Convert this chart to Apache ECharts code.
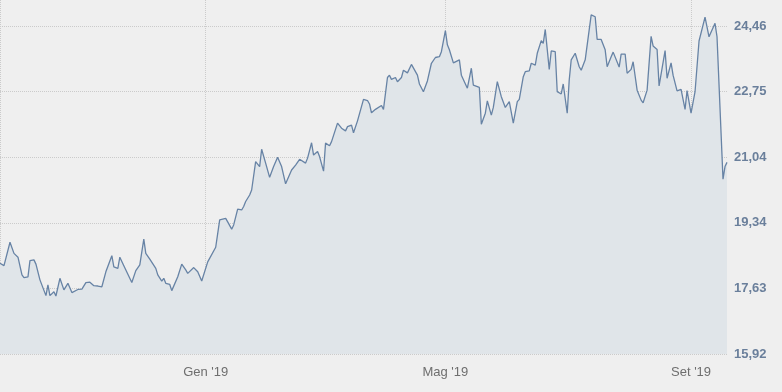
<!DOCTYPE html>
<html>
<head>
<meta charset="utf-8">
<script src="https://cdn.jsdelivr.net/npm/echarts@6/dist/echarts.min.js"></script>
<style>
html,body{margin:0;padding:0;background:#efefef;}
#c{width:782px;height:392px;}
</style>
</head>
<body>
<div id="c"></div>
<script>
const dates = [
'2018-09-20','2018-09-22','2018-09-25','2018-09-27','2018-09-28','2018-09-29','2018-10-01','2018-10-02','2018-10-04','2018-10-05',
'2018-10-07','2018-10-08','2018-10-10','2018-10-13','2018-10-14','2018-10-15','2018-10-17','2018-10-18','2018-10-20','2018-10-22',
'2018-10-23','2018-10-24','2018-10-26','2018-10-27','2018-10-29','2018-10-30','2018-10-31','2018-11-02','2018-11-04','2018-11-06',
'2018-11-08','2018-11-10','2018-11-12','2018-11-15','2018-11-16','2018-11-18','2018-11-19','2018-11-21','2018-11-22','2018-11-25',
'2018-11-27','2018-11-28','2018-11-29','2018-12-01','2018-12-02','2018-12-04','2018-12-05','2018-12-07','2018-12-08','2018-12-10',
'2018-12-11','2018-12-12','2018-12-14','2018-12-15','2018-12-18','2018-12-20','2018-12-22','2018-12-23','2018-12-24','2018-12-26',
'2018-12-27','2018-12-28','2018-12-30','2019-01-02','2019-01-03','2019-01-06','2019-01-08','2019-01-11','2019-01-12','2019-01-14',
'2019-01-15','2019-01-17','2019-01-19','2019-01-20','2019-01-21','2019-01-23','2019-01-24','2019-01-26','2019-01-28','2019-01-29',
'2019-01-31','2019-02-02','2019-02-04','2019-02-06','2019-02-07','2019-02-08','2019-02-10','2019-02-11','2019-02-13','2019-02-15',
'2019-02-16','2019-02-17','2019-02-20','2019-02-21','2019-02-23','2019-02-24','2019-02-26','2019-02-27','2019-03-01','2019-03-02',
'2019-03-04','2019-03-05','2019-03-08','2019-03-10','2019-03-12','2019-03-13','2019-03-15','2019-03-16','2019-03-18','2019-03-19',
'2019-03-21','2019-03-23','2019-03-24','2019-03-25','2019-03-27','2019-03-28','2019-03-30','2019-03-31','2019-04-02','2019-04-03',
'2019-04-04','2019-04-06','2019-04-07','2019-04-09','2019-04-10','2019-04-12','2019-04-14','2019-04-17','2019-04-18','2019-04-20',
'2019-04-22','2019-04-24','2019-04-26','2019-04-28','2019-04-29','2019-05-01','2019-05-02','2019-05-03','2019-05-05','2019-05-06',
'2019-05-08','2019-05-09','2019-05-12','2019-05-14','2019-05-15','2019-05-16','2019-05-18','2019-05-19','2019-05-21','2019-05-22',
'2019-05-24','2019-05-25','2019-05-27','2019-05-29','2019-05-31','2019-06-02','2019-06-03','2019-06-04','2019-06-06','2019-06-07',
'2019-06-09','2019-06-10','2019-06-12','2019-06-13','2019-06-15','2019-06-16','2019-06-18','2019-06-19','2019-06-20','2019-06-22',
'2019-06-23','2019-06-25','2019-06-26','2019-06-28','2019-06-29','2019-07-01','2019-07-02','2019-07-03','2019-07-05','2019-07-07',
'2019-07-08','2019-07-10','2019-07-12','2019-07-13','2019-07-15','2019-07-16','2019-07-18','2019-07-20','2019-07-21','2019-07-23',
'2019-07-24','2019-07-25','2019-07-27','2019-07-28','2019-07-30','2019-07-31','2019-08-02','2019-08-03','2019-08-05','2019-08-07',
'2019-08-08','2019-08-10','2019-08-12','2019-08-13','2019-08-15','2019-08-16','2019-08-17','2019-08-19','2019-08-20','2019-08-22',
'2019-08-23','2019-08-25','2019-08-27','2019-08-28','2019-08-29','2019-08-30','2019-09-01','2019-09-03','2019-09-04','2019-09-05',
'2019-09-08','2019-09-10','2019-09-11','2019-09-13','2019-09-14','2019-09-17','2019-09-18','2019-09-19'
];
const values = [
18.28,18.22,18.83,18.54,18.52,18.44,17.98,17.91,17.93,18.35,
18.37,18.26,17.85,17.44,17.72,17.44,17.54,17.43,17.89,17.59,
17.57,17.76,17.52,17.50,17.60,17.63,17.61,17.78,17.79,17.70,
17.69,17.67,18.06,18.48,18.19,18.15,18.44,18.22,18.26,17.78,
18.09,18.13,18.24,18.91,18.54,18.39,18.37,18.15,17.98,17.82,
17.89,17.76,17.73,17.57,17.93,18.26,18.11,18.02,18.02,18.17,
18.15,18.06,17.82,18.32,18.32,18.70,19.41,19.45,19.36,19.17,
19.28,19.69,19.67,19.76,19.89,20.06,20.19,20.93,20.80,21.25,
20.89,20.52,20.80,21.04,21.03,20.80,20.35,20.38,20.71,20.84,
20.81,20.99,20.89,21.02,21.42,21.10,21.19,21.06,20.68,21.41,
21.34,21.45,21.93,21.80,21.73,21.84,21.88,21.68,21.99,22.01,
22.55,22.52,22.43,22.20,22.29,22.32,22.39,22.29,23.12,23.18,
23.07,23.12,23.01,23.12,23.31,23.24,23.46,23.18,22.95,22.75,
23.03,23.49,23.64,23.66,23.79,24.34,23.97,23.84,23.50,23.46,
23.58,23.18,22.84,23.36,22.92,22.92,22.86,21.90,22.19,22.51,
22.14,22.34,23.01,22.62,22.34,22.49,22.45,21.93,22.49,22.55,
23.14,23.27,23.29,23.49,23.44,23.75,24.08,24.01,24.37,23.33,
23.81,23.79,22.75,22.69,22.95,22.19,23.05,23.58,23.75,23.40,
23.31,23.58,24.36,24.75,24.70,24.11,24.11,23.84,23.40,23.66,
23.78,23.79,23.39,23.73,23.73,23.23,23.33,23.53,22.79,22.53,
22.46,22.79,24.19,23.94,23.85,22.90,22.92,23.82,23.10,23.50,
23.18,22.77,22.81,22.79,22.29,22.78,22.19,22.75,22.75,24.07,
24.69,24.18,24.17,24.53,24.18,20.47,20.80,20.91
];
const xTickDates = ['2019-01-01','2019-05-01','2019-09-01'];
const xTickLabels = ["Gen '19", "Mag '19", "Set '19"];
const yTickValues = [15.92, 17.628, 19.336, 21.044, 22.752, 24.46];
const yMin = 15.92;
const yMax = 25.137;

function ts(s){ const p = s.split('-').map(Number); return Date.UTC(p[0], p[1]-1, p[2]); }

const seriesData = dates.map((d, i) => [ts(d), values[i]]);
const xMin = ts(dates[0]);
const xMax = ts(dates[dates.length - 1]);
const labelTs = xTickDates.map(ts);
const labelMap = {};
labelTs.forEach((t, i) => { labelMap[t] = xTickLabels[i]; });

const chart = echarts.init(document.getElementById('c'), null, {renderer: 'canvas'});
chart.setOption({
  animation: false,
  backgroundColor: '#efefef',
  grid: { left: -1, right: 55, top: 0, bottom: 38, containLabel: false },
  xAxis: {
    type: 'value',
    min: xMin,
    max: xMax,
    axisLine: { show: false },
    axisTick: { show: false, customValues: [xMin].concat(labelTs) },
    axisLabel: {
      customValues: labelTs,
      formatter: v => labelMap[v] || '',
      color: '#6e6e6e',
      fontSize: 13,
      fontFamily: 'Liberation Sans, Arial, sans-serif',
      margin: 12
    },
    splitLine: { show: true, lineStyle: { color: '#cbcbcb', type: 'dotted', width: 1 } }
  },
  yAxis: {
    type: 'value',
    position: 'right',
    min: yMin,
    max: yMax,
    axisLine: { show: false },
    axisTick: { show: false, customValues: yTickValues },
    axisLabel: {
      customValues: yTickValues,
      formatter: v => v.toFixed(2).replace('.', ','),
      color: '#6a7f9b',
      fontWeight: 'bold',
      fontSize: 13,
      fontFamily: 'Liberation Sans, Arial, sans-serif',
      margin: 7,
      align: 'left'
    },
    splitLine: { show: true, lineStyle: { color: '#cbcbcb', type: 'dotted', width: 1 } }
  },
  series: [{
    type: 'line',
    data: seriesData,
    showSymbol: false,
    symbol: 'none',
    lineStyle: { color: '#6783a5', width: 1.3 },
    areaStyle: { color: '#e0e5e9', opacity: 1 },
    z: 1
  }]
});
</script>
</body>
</html>
